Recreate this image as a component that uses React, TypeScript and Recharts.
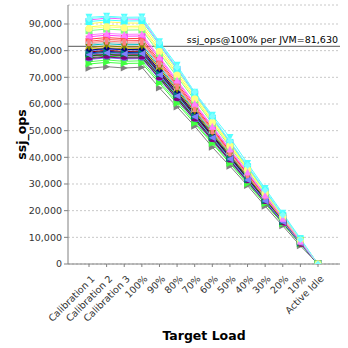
import React from 'react';
import { LineChart, Line, XAxis, YAxis, CartesianGrid, ReferenceLine, Label } from 'recharts';

const categories = ['Calibration 1', 'Calibration 2', 'Calibration 3', '100%', '90%', '80%', '70%', '60%', '50%', '40%', '30%', '20%', '10%', 'Active Idle'];

const s0 = [83500, 84200, 83900, 83800, 75400, 67100, 58600, 50300, 42000, 33500, 25200, 16800, 8400, 0];
const s1 = [80000, 80600, 80300, 80200, 72100, 64200, 56100, 48100, 40200, 32100, 24000, 16000, 8000, 0];
const s2 = [75800, 76500, 76000, 76200, 68500, 61000, 53300, 45700, 38100, 30500, 22800, 15200, 7600, 0];
const s3 = [90100, 90800, 90400, 90300, 81300, 72300, 63200, 54200, 45200, 36100, 27100, 18100, 9000, 0];
const s4 = [91500, 92200, 91900, 91800, 82600, 73400, 64300, 55100, 45900, 36700, 27500, 18400, 9200, 0];
const s5 = [92500, 92900, 92500, 92600, 83300, 74500, 64400, 55800, 47400, 37700, 28300, 19000, 9600, 0];
const s6 = [81000, 81500, 81200, 81200, 73100, 65000, 56800, 48700, 40600, 32500, 24400, 16200, 8100, 0];
const s7 = [73400, 74000, 73500, 73800, 66000, 58900, 51700, 43800, 36700, 29400, 21700, 14300, 6800, 0];
const s8 = [78300, 78900, 78500, 78600, 70700, 62900, 55000, 47200, 39300, 31400, 23600, 15700, 7900, 0];
const s9 = [79100, 79800, 79300, 79400, 71500, 63500, 55600, 47600, 39700, 31800, 23800, 15900, 7900, 0];
const s10 = [77300, 77900, 77500, 77600, 69800, 62100, 54300, 46600, 38800, 31000, 23300, 15500, 7800, 0];
const s11 = [80500, 81100, 80700, 80800, 72700, 64600, 56600, 48500, 40400, 32300, 24200, 16200, 8100, 0];
const s12 = [77800, 78400, 78000, 78100, 70300, 62500, 54700, 46900, 39100, 31200, 23400, 15600, 7800, 0];
const s13 = [82000, 82600, 82200, 82300, 74100, 65800, 57600, 49400, 41200, 32900, 24700, 16500, 8200, 0];
const s14 = [78700, 79300, 78900, 79000, 71100, 63200, 55300, 47400, 39500, 31600, 23700, 15800, 7900, 0];
const s15 = [84300, 84900, 84500, 84600, 76100, 67700, 59200, 50800, 42300, 33800, 25400, 16900, 8500, 0];
const s16 = [76700, 77300, 76900, 77000, 69300, 61600, 53900, 46200, 38500, 30800, 23100, 15400, 7700, 0];
const s17 = [75000, 75600, 75200, 75300, 67800, 60200, 52700, 45200, 37700, 30100, 22600, 15100, 7500, 0];
const s18 = [88900, 89500, 89100, 89200, 80300, 71400, 62400, 53500, 44600, 35700, 26800, 17800, 8900, 0];
const s19 = [85200, 85800, 85400, 85500, 77000, 68400, 59900, 51300, 42800, 34200, 25700, 17100, 8600, 0];
const s20 = [90900, 91500, 91100, 91200, 82100, 73000, 63800, 54700, 45600, 36500, 27400, 18200, 9100, 0];
const s21 = [82500, 83100, 82700, 82800, 74500, 66200, 58000, 49700, 41400, 33100, 24800, 16600, 8300, 0];
const s22 = [79500, 80100, 79700, 79800, 71800, 63800, 55900, 47900, 39900, 31900, 23900, 16000, 8000, 0];
const s23 = [80200, 80800, 80400, 80500, 72500, 64400, 56400, 48300, 40300, 32200, 24200, 16100, 8100, 0];
const s24 = [78000, 78600, 78200, 78300, 70500, 62600, 54800, 47000, 39200, 31300, 23500, 15700, 7800, 0];
const s25 = [81200, 81800, 81400, 81500, 73400, 65200, 57100, 48900, 40800, 32600, 24500, 16300, 8200, 0];
const s26 = [77000, 77600, 77200, 77300, 69600, 61800, 54100, 46400, 38700, 30900, 23200, 15500, 7700, 0];
const s27 = [78800, 79400, 79000, 79100, 71200, 63300, 55400, 47500, 39600, 31600, 23700, 15800, 7900, 0];
const s28 = [83000, 83600, 83200, 83300, 75000, 66600, 58300, 50000, 41700, 33300, 25000, 16700, 8300, 0];
const s29 = [78500, 79100, 78700, 78800, 70900, 63000, 55200, 47300, 39400, 31500, 23600, 15800, 7900, 0];
const s30 = [87500, 88100, 87700, 87800, 79000, 70200, 61500, 52700, 43900, 35100, 26300, 17600, 8800, 0];
const s31 = [88300, 88900, 88500, 88600, 79700, 70900, 62000, 53200, 44300, 35400, 26600, 17700, 8900, 0];
const s32 = [85900, 86500, 86100, 86200, 77600, 69000, 60300, 51700, 43100, 34500, 25900, 17200, 8600, 0];
const s33 = [92000, 92600, 92200, 92200, 83000, 73800, 64500, 55300, 46100, 36900, 27700, 18400, 9200, 0];

const seriesValues = [s0, s1, s2, s3, s4, s5, s6, s7, s8, s9, s10, s11, s12, s13, s14, s15, s16, s17, s18, s19, s20, s21, s22, s23, s24, s25, s26, s27, s28, s29, s30, s31, s32, s33];

const seriesColors = [
  '#FF5555', '#5555FF', '#55FF55', '#FFFF55', '#FF55FF', '#55FFFF', '#FFAFAF', '#808080',
  '#C00000', '#0000C0', '#00C000', '#C0C000', '#C000C0', '#00C0C0', '#404040',
  '#FF4040', '#7777FF', '#40FF40', '#FFFF40', '#FF40FF', '#40FFFF', '#C0C0C0',
  '#800000', '#000080', '#008000', '#808000', '#800080', '#008080',
  '#FF8080', '#8080FF', '#80FF80', '#FFFF80', '#FF80FF', '#80FFFF',
];

const yTicks = [0, 10000, 20000, 30000, 40000, 50000, 60000, 70000, 80000, 90000];
const refValue = 81630;
const refLabel = 'ssj_ops@100% per JVM=81,630';

const data = categories.map((c, i) => {
  const row: Record<string, any> = { name: c };
  seriesValues.forEach((s, k) => { row['s' + k] = s[i]; });
  return row;
});

const FONT = '"DejaVu Sans", sans-serif';

function makeDot(idx: number) {
  const color = seriesColors[idx];
  const shape = idx % 10;
  return (props: any) => {
    const { cx, cy, index } = props;
    const key = `d${idx}-${index}`;
    if (cx == null || cy == null) return <g key={key} />;
    const h = 3.5;
    switch (shape) {
      case 0: return <rect key={key} x={cx - h} y={cy - h} width={2 * h} height={2 * h} fill={color} />;
      case 1: return <circle key={key} cx={cx} cy={cy} r={h} fill={color} />;
      case 2: return <polygon key={key} points={`${cx},${cy - h} ${cx + h},${cy + h} ${cx - h},${cy + h}`} fill={color} />;
      case 3: return <polygon key={key} points={`${cx},${cy - h} ${cx + h},${cy} ${cx},${cy + h} ${cx - h},${cy}`} fill={color} />;
      case 4: return <rect key={key} x={cx - h} y={cy - h / 2} width={2 * h} height={h} fill={color} />;
      case 5: return <polygon key={key} points={`${cx - h},${cy - h} ${cx + h},${cy - h} ${cx},${cy + h}`} fill={color} />;
      case 6: return <ellipse key={key} cx={cx} cy={cy} rx={h} ry={h / 2} fill={color} />;
      case 7: return <polygon key={key} points={`${cx - h},${cy - h} ${cx + h},${cy} ${cx - h},${cy + h}`} fill={color} />;
      case 8: return <rect key={key} x={cx - h / 2} y={cy - h} width={h} height={2 * h} fill={color} />;
      default: return <polygon key={key} points={`${cx + h},${cy - h} ${cx - h},${cy} ${cx + h},${cy + h}`} fill={color} />;
    }
  };
}

const XTick = (props: any) => {
  const { x, y, payload } = props;
  return (
    <g transform={`translate(${x + 4},${y + 8})`}>
      <text x={0} y={0} dy="0.35em" textAnchor="end" transform="rotate(-45)" fontSize={9.5} fontFamily={FONT} fill="#333">
        {payload.value}
      </text>
    </g>
  );
};

const RefLabel = (props: any) => {
  const { viewBox } = props;
  const x = viewBox.x + viewBox.width - 2;
  const y = viewBox.y - 3;
  return (
    <text x={x} y={y} textAnchor="end" fontSize={9.5} fontFamily={FONT} fill="#000">{refLabel}</text>
  );
};

const YTitle = (props: any) => {
  const { viewBox } = props;
  const cx = 21;
  const cy = viewBox.y + viewBox.height / 2;
  return (
    <text x={cx} y={cy} transform={`rotate(-90 ${cx} ${cy})`} textAnchor="middle" dominantBaseline="central" fontSize={12.5} fontWeight="bold" fontFamily={FONT} fill="#000">ssj_ops</text>
  );
};

const XTitle = (props: any) => {
  const { viewBox } = props;
  const cx = viewBox.x + viewBox.width / 2;
  return (
    <text x={cx} y={340} textAnchor="middle" fontSize={12.5} fontWeight="bold" fontFamily={FONT} fill="#000">Target Load</text>
  );
};

export default function App() {
  return (
    <div style={{ position: 'absolute', left: 0, top: 0, width: 348, height: 348, background: '#fff' }}>
      <LineChart width={348} height={348} data={data} margin={{ top: 5, right: 8, left: 0, bottom: 0 }}>
        <CartesianGrid horizontal vertical={false} stroke="#c8c8c8" strokeDasharray="2 2" />
        <XAxis
          dataKey="name"
          interval={0}
          height={84}
          padding={{ left: 21, right: 22 }}
          tick={<XTick />}
          tickSize={3}
          axisLine={{ stroke: '#808080' }}
          tickLine={{ stroke: '#808080' }}
        >
          <Label content={<XTitle />} />
        </XAxis>
        <YAxis
          width={68}
          domain={[0, 97120]}
          ticks={yTicks}
          interval={0}
          tickFormatter={(v: number) => v.toLocaleString('en-US')}
          tick={{ fontSize: 9.5, fontFamily: FONT, fill: '#333' }}
          tickSize={4}
          tickMargin={2}
          axisLine={{ stroke: '#808080' }}
          tickLine={{ stroke: '#808080' }}
          allowDataOverflow
        >
          <Label content={<YTitle />} />
        </YAxis>
        <YAxis yAxisId="right" orientation="right" width={0} tick={false} tickLine={false} axisLine={{ stroke: '#808080' }} />
        <ReferenceLine y={refValue} stroke="#555" strokeWidth={1} label={<RefLabel />} />
        {seriesValues.map((_, k) => (
          <Line
            key={k}
            dataKey={'s' + k}
            stroke={seriesColors[k]}
            strokeWidth={1}
            dot={makeDot(k)}
            activeDot={false}
            isAnimationActive={false}
          />
        ))}
      </LineChart>
    </div>
  );
}
